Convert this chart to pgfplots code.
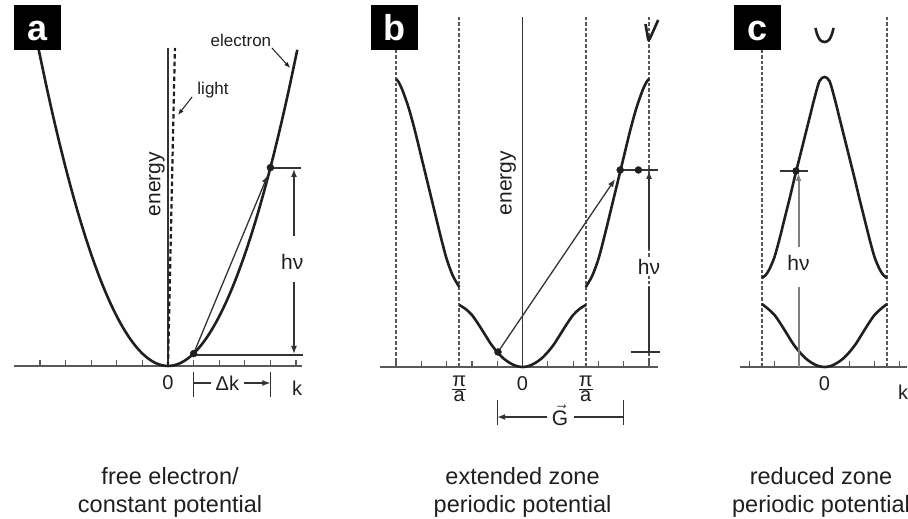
\documentclass[border=0pt]{standalone}
\usepackage{pgfplots}
\pgfplotsset{compat=1.18}
\usepackage{fontspec}
\setmainfont{Liberation Sans}
\usetikzlibrary{arrows.meta}
\newcommand\fs[1]{\fontsize{#1}{#1}\selectfont}
\colorlet{ink}{black!88}
\tikzset{
  band/.style={line width=2.6pt, ink, smooth},
  vdash/.style={line width=1.6pt, black!65, dash pattern=on 3.5pt off 2pt},
  tln/.style={line width=1.3pt, black!80},
  bdot/.style={only marks, mark=*, mark size=3.5pt, mark options={fill=ink, draw=ink}},
  arr/.style={-{Latex[length=8pt,width=6pt]}},
  sarr/.style={-{Latex[length=6pt,width=4.5pt]}},
  lab/.style={text=ink, inner sep=0pt},
  lbox/.style={fill=black, text=white, font=\fs{36}\bfseries, minimum width=47pt, minimum height=45pt, inner sep=0pt, text height=26pt, text depth=0pt, anchor=north west},
  captxt/.style={text=ink, align=center, font=\fontsize{23.5}{28}\selectfont},
}
\pgfplotsset{panel/.style={
  y=1pt, ymin=0,
  axis x line*=bottom, axis y line=none,
  x axis line style={line width=1.8pt, black!65},
  xticklabels={},
  major tick length=6pt, tick align=inside,
  major tick style={line width=1.2pt, black!65},
  clip=false, anchor=south west,
}}
\begin{document}
\begin{tikzpicture}
\useasboundingbox (0pt,0pt) rectangle (908pt,519pt);
% ---------------- panel a ----------------
\begin{axis}[panel, x=25.6pt, xmin=-6.02, xmax=5.23, ymax=320, xtick={-5,...,5}, at={(13.9pt,153pt)}]
\addplot[tln] coordinates {(0,0) (0,318)};
\addplot[line width=2.2pt, ink, dash pattern=on 4.5pt off 3pt] coordinates {(0,0) (0.27,318)};
\addplot[band] coordinates {
(-5.05,316.2) (-4.75,279.8) (-4.5,251.1) (-4.25,224.0) (-4,198.4) (-3.75,174.4)
(-3.5,151.9) (-3.25,131.0) (-3,111.6) (-2.75,93.8) (-2.5,77.5) (-2.25,62.8)
(-2,49.6) (-1.75,38.0) (-1.5,27.9) (-1.25,19.4) (-1,12.4) (-0.75,7.0)
(-0.5,3.1) (-0.25,0.8) (0,0) (0.25,0.8) (0.5,3.1) (0.75,7.0) (1,12.4)
(1.25,19.4) (1.5,27.9) (1.75,38.0) (2,49.6) (2.25,62.8) (2.5,77.5)
(2.75,93.8) (3,111.6) (3.25,131.0) (3.5,151.9) (3.75,174.4) (4,198.4)
(4.25,224.0) (4.5,251.1) (4.75,279.8) (5.05,316.2)};
\addplot[tln] coordinates {(1,11) (5.28,11)};
\addplot[tln] coordinates {(4,198) (5.2,198)};
\addplot[tln, arr] coordinates {(1,12.4) (3.9,191)};
\addplot[tln, arr] coordinates {(4.92,130) (4.92,197)};
\addplot[tln, arr] coordinates {(4.92,84) (4.92,12)};
\addplot[bdot] coordinates {(1,12.4) (4,198.4)};
\addplot[tln] coordinates {(1,-6) (1,-31)};
\addplot[tln] coordinates {(4,-6) (4,-31)};
\addplot[tln] coordinates {(1,-17) (1.68,-17)};
\addplot[tln, arr] coordinates {(2.95,-17) (4,-17)};
\addplot[line width=1pt, ink, sarr] coordinates {(4.06,318) (4.77,298)};
\addplot[line width=1pt, ink, sarr] coordinates {(0.94,269) (0.39,251)};
\node[lab, font=\fs{20}] at (axis cs:0,-17) {0};
\node[lab, font=\fs{20}] at (axis cs:5.04,-22) {k};
\node[lab, font=\fs{20}] at (axis cs:2.32,-17) {Δk};
\node[lab, font=\fs{21}, rotate=90] at (axis cs:-0.43,182) {energy};
\node[lab, font=\fs{17}] at (axis cs:2.85,326) {electron};
\node[lab, font=\fs{17}] at (axis cs:1.76,276) {light};
\node[lab, font=\fs{21}] at (axis cs:4.85,104) {hν};
\node[captxt] at (axis cs:0.08,-126) {free electron/\\constant potential};
\node[lbox] at (axis cs:-6.02,361) {a};
\end{axis}
% ---------------- panel b ----------------
\begin{axis}[panel, x=25.3pt, xmin=-5.63, xmax=5.36, ymax=350, xtick={-5,...,5}, at={(380.1pt,152pt)}]
\addplot[tln] coordinates {(0,0) (0,350)};
\addplot[vdash] coordinates {(-5,0) (-5,350)};
\addplot[vdash] coordinates {(-2.5,0) (-2.5,350)};
\addplot[vdash] coordinates {(2.5,0) (2.5,350)};
\addplot[vdash] coordinates {(5,0) (5,350)};
\addplot[band] coordinates {
(-2.5,62) (-2.25,58) (-2,52) (-1.75,43) (-1.5,33) (-1.25,23) (-1,15)
(-0.75,8.5) (-0.5,4) (-0.25,1) (0,0) (0.25,1) (0.5,4) (0.75,8.5) (1,15)
(1.25,23) (1.5,33) (1.75,43) (2,52) (2.25,58) (2.5,62)};
\addplot[band] coordinates {
(-5,288) (-4.9,285) (-4.75,277) (-4.5,259) (-4.25,236) (-4,210) (-3.75,184)
(-3.5,158) (-3.25,132) (-3,108) (-2.75,91) (-2.5,80)};
\addplot[band] coordinates {
(2.5,80) (2.75,91) (3,108) (3.25,132) (3.5,158) (3.75,184) (4,210)
(4.25,236) (4.5,259) (4.75,277) (4.9,285) (5,288)};
\addplot[band] coordinates {(4.86,343) (4.93,333) (4.99,327) (5.15,335) (5.36,347)};
\addplot[tln, arr] coordinates {(-0.97,15) (3.66,188)};
\addplot[tln] coordinates {(3.86,197) (5.37,197)};
\addplot[tln, arr] coordinates {(5,118) (5,196)};
\addplot[tln] coordinates {(5,80) (5,15)};
\addplot[tln] coordinates {(4.27,15) (5.45,15)};
\addplot[bdot] coordinates {(-0.97,15) (3.86,197) (4.58,197)};
\addplot[tln] coordinates {(-1,-33) (-1,-58)};
\addplot[tln] coordinates {(4,-33) (4,-58)};
\addplot[tln, arr] coordinates {(0.95,-50) (-1,-50)};
\addplot[tln] coordinates {(2.05,-50) (4,-50)};
\node[lab, font=\fs{20}] at (axis cs:0,-17) {0};
\node[lab, font=\fs{20}] at (axis cs:-2.5,-22) {$\frac{\mbox{π}}{\mbox{a}}$};
\node[lab, font=\fs{20}] at (axis cs:2.5,-22) {$\frac{\mbox{π}}{\mbox{a}}$};
\node[lab, font=\fs{21}] at (axis cs:1.48,-48) {$\vec{\mbox{G}}$};
\node[lab, font=\fs{21}, rotate=90] at (axis cs:-0.57,184) {energy};
\node[lab, font=\fs{21}, fill=white, inner sep=1pt] at (axis cs:5,100) {hν};
\node[captxt] at (axis cs:0,-125) {extended zone\\periodic potential};
\node[lbox] at (axis cs:-5.99,362) {b};
\end{axis}
% ---------------- panel c ----------------
\begin{axis}[panel, x=25pt, xmin=-3.38, xmax=3.3, ymax=350, xtick={-3,-2,-1,1,2,3}, at={(740pt,152pt)}]
\addplot[vdash] coordinates {(-2.5,0) (-2.5,350)};
\addplot[vdash] coordinates {(2.5,0) (2.5,350)};
\addplot[band] coordinates {
(-2.5,63) (-2.25,58) (-2,52) (-1.75,43) (-1.5,33) (-1.25,23) (-1,15)
(-0.75,8.5) (-0.5,4) (-0.25,1) (0,0) (0.25,1) (0.5,4) (0.75,8.5) (1,15)
(1.25,23) (1.5,33) (1.75,43) (2,52) (2.25,58) (2.5,63)};
\addplot[band] coordinates {
(-2.5,89) (-2.35,92) (-2.2,98) (-2,110) (-1.8,128) (-1.6,148) (-1.4,168)
(-1.2,189) (-1,209) (-0.8,229) (-0.6,249) (-0.4,269) (-0.2,286) (0,290)
(0.2,286) (0.4,269) (0.6,249) (0.8,229) (1,209) (1.2,189) (1.4,168)
(1.6,148) (1.8,128) (2,110) (2.2,98) (2.35,92) (2.5,89)};
\addplot[band] coordinates {(-0.36,339) (-0.3,333) (-0.18,327) (0,325) (0.18,327) (0.3,333) (0.36,339)};
\addplot[line width=2pt, black!50, arr] coordinates {(-1.04,120) (-1.04,194)};
\addplot[line width=2pt, black!50] coordinates {(-1.04,80) (-1.04,0)};
\addplot[tln] coordinates {(-1.78,196) (-0.66,196)};
\addplot[bdot] coordinates {(-1.14,196)};
\node[lab, font=\fs{20}] at (axis cs:0,-17) {0};
\node[lab, font=\fs{20}] at (axis cs:3.14,-25) {k};
\node[lab, font=\fs{21}] at (axis cs:-1.04,104) {hν};
\node[captxt] at (axis cs:-0.14,-125) {reduced zone\\periodic potential};
\node[lbox] at (axis cs:-3.62,362) {c};
\end{axis}
\end{tikzpicture}
\end{document}
